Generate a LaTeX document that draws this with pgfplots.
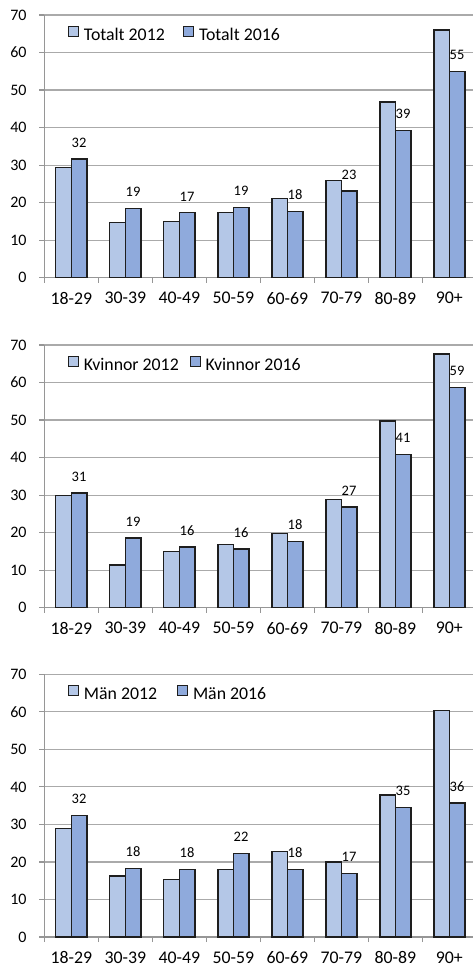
\documentclass[border=0pt]{standalone}
\usepackage{fontspec}
\setmainfont{Carlito}
\usepackage{pgfplots}
\usepackage{pgfplotstable}
\pgfplotsset{compat=1.18}
\definecolor{lightbar}{RGB}{180,199,231}
\definecolor{darkbar}{RGB}{143,170,220}
\definecolor{edge}{RGB}{30,30,30}
\definecolor{axgray}{RGB}{150,150,150}
\definecolor{gridgray}{RGB}{170,170,170}

\pgfplotstableread{
x a b lab
0 29.3 31.65 32
1 14.7 18.5 19
2 15.0 17.3 17
3 17.3 18.7 19
4 21.1 17.7 18
5 25.9 23.1 23
6 46.8 39.2 39
7 66.0 55.0 55
}\totalt
\pgfplotstableread{
x a b lab
0 29.9 30.6 31
1 11.4 18.6 19
2 14.9 16.2 16
3 16.9 15.6 16
4 19.7 17.6 18
5 28.8 26.8 27
6 49.8 40.9 41
7 67.6 58.7 59
}\kvinnor
\pgfplotstableread{
x a b lab
0 28.9 32.3 32
1 16.3 18.3 18
2 15.3 18.0 18
3 18.0 22.2 22
4 22.8 18.0 18
5 20.0 17.0 17
6 37.8 34.5 35
7 60.3 35.7 36
}\man

\pgfplotsset{
  panel/.style={
    width=432pt, height=262.7pt, scale only axis,
    anchor=south west,
    ybar=0pt, bar width=15.5pt,
    xmin=-0.5, xmax=7.5, ymin=0, ymax=70,
    xtick={-0.5,0.5,...,7.5},
    xticklabels={},
    extra x ticks={0,1,...,7},
    extra x tick labels={18-29,30-39,40-49,50-59,60-69,70-79,80-89,90+},
    extra x tick style={major tick length=0pt, grid=none},
    ytick={0,10,...,70},
    axis x line*=bottom, axis y line*=left,
    axis line style={axgray, line width=1.2pt, -},
    tick style={axgray, line width=1.2pt},
    tick align=outside,
    major tick length=5pt,
    ymajorgrids, grid style={gridgray, line width=1.2pt},
    /pgf/number format/assume math mode=true,
    xticklabel style={font=\fontsize{17.8}{20}\selectfont, anchor=north, inner sep=0pt, yshift=-14.5pt},
    yticklabel style={font=\fontsize{16}{19}\selectfont, anchor=east, inner sep=0pt, xshift=-12.5pt},
    legend columns=2,
    legend style={draw=none, fill=none, inner sep=0pt, outer sep=0pt,
      at={(0,1)}, anchor=west, xshift=23.7pt, yshift=-19pt,
      font=\fontsize{17.8}{20}\selectfont,
      nodes={inner sep=0pt},
      /tikz/every odd column/.append style={column sep=4.7pt}},
    legend image code/.code={\draw[#1, line width=1.2pt] (0pt,-1pt) rectangle (10pt,9pt);},
    every axis plot/.append style={draw=edge, line width=1.4pt},
    nodes near coords style={font=\fontsize{14.5}{17}\selectfont, anchor=south, inner sep=0pt, yshift=11pt, text=black},
  },
  panel/.belongs to family=/pgfplots,
}

\begin{document}
\begin{tikzpicture}
\begin{axis}[panel, at={(44.3pt,-277.7pt)},
  legend style={/tikz/every even column/.append style={column sep=18.3pt}}]
  \addplot[fill=lightbar] table[x=x, y=a] {\totalt};
  \addplot[fill=darkbar, nodes near coords, point meta=explicit] table[x=x, y=b, meta=lab] {\totalt};
  \legend{Totalt 2012, Totalt 2016}
\end{axis}
\begin{axis}[panel, at={(44.3pt,-607.7pt)},
  legend style={/tikz/every even column/.append style={column sep=11pt}}]
  \addplot[fill=lightbar] table[x=x, y=a] {\kvinnor};
  \addplot[fill=darkbar, nodes near coords, point meta=explicit] table[x=x, y=b, meta=lab] {\kvinnor};
  \legend{Kvinnor 2012, Kvinnor 2016}
\end{axis}
\begin{axis}[panel, at={(44.3pt,-937pt)},
  legend style={/tikz/every even column/.append style={column sep=20pt}}]
  \addplot[fill=lightbar] table[x=x, y=a] {\man};
  \addplot[fill=darkbar, nodes near coords, point meta=explicit] table[x=x, y=b, meta=lab] {\man};
  \legend{Män 2012, Män 2016}
\end{axis}
\pgfresetboundingbox
\useasboundingbox (0,0) rectangle (473pt,-968pt);
\end{tikzpicture}
\end{document}
